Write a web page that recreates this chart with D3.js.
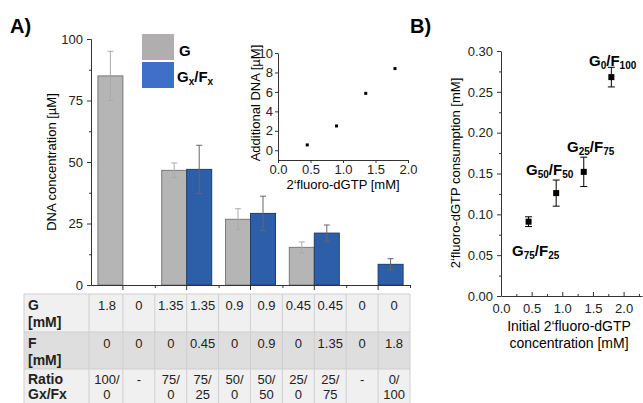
<!DOCTYPE html>
<html>
<head>
<meta charset="utf-8">
<script src="https://cdn.jsdelivr.net/npm/d3@7.9.0/dist/d3.min.js"></script>
<style>
  body { margin: 0; background: #fff; }
  svg { font-family: "Liberation Sans", Arial, sans-serif; display: block; }
</style>
</head>
<body>
<svg width="643" height="403"></svg>
<script>
// ---- panel A: bars ----
const barColumns = d3.range(10);
const barSeries = ["G", "GF", "G", "GF", "G", "GF", "G", "GF", "G", "GF"];
const barValues = [85, null, 46.6, 47.0, 26.7, 29.1, 15.3, 21.1, null, 8.4];
const barErrors = [10, null, 3.0, 9.8, 4.3, 7.0, 2.2, 3.3, null, 2.3];

// table under the bars
const rowHeads = [["G", "[mM]"], ["F", "[mM]"], ["Ratio", "Gx/Fx"]];
const gConc = ["1.8", "0", "1.35", "1.35", "0.9", "0.9", "0.45", "0.45", "0", "0"];
const fConc = ["0", "0", "0", "0.45", "0", "0.9", "0", "1.35", "0", "1.8"];
const ratioTop = ["100/", "-", "75/", "75/", "50/", "50/", "25/", "25/", "-", "0/"];
const ratioBottom = ["0", "", "0", "25", "0", "50", "0", "75", "", "100"];

// inset
const insetX = [0.45, 0.9, 1.35, 1.8];
const insetY = [0.55, 2.5, 5.85, 8.4];

// ---- panel B ----
const consX = [0.45, 0.9, 1.35, 1.8];
const consY = [0.091, 0.126, 0.152, 0.268];
const consErr = [0.006, 0.016, 0.018, 0.012];
const consLabels = [["75", "25"], ["50", "50"], ["25", "75"], ["0", "100"]];

const svg = d3.select("svg");
const axisColor = "#333";

// panel letters
svg.append("text").attr("x", 10).attr("y", 33).attr("font-size", 20)
  .attr("font-weight", "bold").text("A)");
svg.append("text").attr("x", 410).attr("y", 33).attr("font-size", 20)
  .attr("font-weight", "bold").text("B)");

// ===== bar chart =====
const x0 = d3.scaleBand().domain(d3.range(5)).range([91, 410]);
const x1 = d3.scaleBand().domain(["G", "GF"]).range([0, x0.bandwidth()])
  .paddingInner(0).paddingOuter(0.276);
const xCol = d3.scaleBand().domain(barColumns).range([91, 410]);
const y = d3.scaleLinear().domain([0, 100]).range([285, 39]);

const fills = { G: "#b5b5b5", GF: "#2d5fa8" };
const strokes = { G: "#7a7a7a", GF: "#1d3d73" };
const errColor = { G: "#aaa", GF: "#666" };

const bars = barColumns.filter(i => barValues[i] != null);
const gBars = svg.append("g");
gBars.selectAll("rect").data(bars).join("rect")
  .attr("x", i => x0(Math.floor(i / 2)) + x1(barSeries[i]))
  .attr("y", i => y(barValues[i]))
  .attr("width", x1.bandwidth())
  .attr("height", i => y(0) - y(barValues[i]))
  .attr("fill", i => fills[barSeries[i]])
  .attr("stroke", i => strokes[barSeries[i]])
  .attr("stroke-width", 1);

const gErr = svg.append("g");
bars.forEach(i => {
  const cx = x0(Math.floor(i / 2)) + x1(barSeries[i]) + x1.bandwidth() / 2;
  const c = errColor[barSeries[i]];
  const top = y(barValues[i] + barErrors[i]), bot = y(barValues[i] - barErrors[i]);
  gErr.append("line").attr("x1", cx).attr("x2", cx).attr("y1", top).attr("y2", bot)
    .attr("stroke", c);
  [top, bot].forEach(v => gErr.append("line").attr("x1", cx - 3).attr("x2", cx + 3)
    .attr("y1", v).attr("y2", v).attr("stroke", c));
});

// y axis
svg.append("g").attr("transform", "translate(91,0)")
  .call(d3.axisLeft(y).tickValues([0, 25, 50, 75, 100]).tickSize(4).tickPadding(4));
svg.append("g").attr("transform", "translate(91,0)")
  .call(d3.axisLeft(y).tickValues([12.5, 37.5, 62.5, 87.5]).tickSize(2).tickFormat(""))
  .select(".domain").remove();
// x axis
svg.append("g").attr("transform", "translate(0,285)")
  .call(d3.axisBottom(x0).tickSize(5).tickFormat("").tickSizeOuter(0));
svg.append("g").attr("transform", "translate(0,285)")
  .call(d3.axisBottom(d3.scaleLinear().domain([0, 5]).range([91, 410]))
    .tickValues([1, 2, 3, 4, 5]).tickSize(3).tickFormat(""))
  .select(".domain").remove();

svg.append("text").attr("transform", "translate(56,162) rotate(-90)")
  .attr("text-anchor", "middle").attr("font-size", 13).text("DNA concentration [µM]");

// legend
const legend = [["G", "#b0aeae", 34], ["GF", "#3f6fc6", 62]];
legend.forEach(([k, c, ty]) => {
  svg.append("rect").attr("x", 142).attr("y", ty).attr("width", 32).attr("height", 26)
    .attr("fill", c);
});
svg.append("text").attr("x", 179).attr("y", 56).attr("font-size", 15)
  .attr("font-weight", "bold").text("G");
const lg = svg.append("text").attr("x", 177).attr("y", 82).attr("font-size", 15)
  .attr("font-weight", "bold");
lg.append("tspan").text("G");
lg.append("tspan").attr("font-size", 10).attr("dy", 3).text("x");
lg.append("tspan").attr("dy", -3).text("/F");
lg.append("tspan").attr("font-size", 10).attr("dy", 3).text("x");

svg.selectAll(".domain, .tick line").attr("stroke", axisColor);
svg.selectAll(".tick text").attr("font-size", 13).attr("fill", "#222");

// ===== table =====
const rowTops = [294, 332, 369];
const rowH = [38, 37, 40];
const rowFill = ["#f0f0f0", "#dedede", "#f0f0f0"];
const lineOne = [16, 16, 15];
const lineTwo = [17, 17, 15];
const tbl = svg.append("g").attr("font-size", 13).attr("fill", "#222");
const rows = [[gConc, null], [fConc, null], [ratioTop, ratioBottom]];
rows.forEach((r, ri) => {
  tbl.append("rect").attr("x", 24).attr("y", rowTops[ri]).attr("width", 410 - 24)
    .attr("height", rowH[ri]).attr("fill", rowFill[ri]);
  const h = tbl.append("text").attr("x", 28).attr("y", rowTops[ri] + lineOne[ri])
    .attr("font-weight", "bold").attr("font-size", 14);
  h.append("tspan").text(rowHeads[ri][0]);
  h.append("tspan").attr("x", 28).attr("dy", lineTwo[ri]).text(rowHeads[ri][1]);
  barColumns.forEach(c => {
    const cx = xCol(c) + xCol.bandwidth() / 2;
    tbl.append("text").attr("x", cx).attr("y", rowTops[ri] + lineOne[ri])
      .attr("text-anchor", "middle").text(r[0][c]);
    if (r[1]) tbl.append("text").attr("x", cx).attr("y", rowTops[ri] + lineOne[ri] + lineTwo[ri])
      .attr("text-anchor", "middle").text(r[1][c]);
  });
});
// cell borders
const borderX = [24, 89].concat(barColumns.slice(1).map(c => xCol(c)), [410]);
borderX.forEach(bx => tbl.append("line").attr("x1", bx).attr("x2", bx)
  .attr("y1", 294).attr("y2", 403).attr("stroke", "#cfcfcf"));
[294, 332, 369].forEach(by => tbl.append("line").attr("x1", 24).attr("x2", 410)
  .attr("y1", by).attr("y2", by).attr("stroke", "#cfcfcf"));

// ===== inset =====
const ix = d3.scaleLinear().domain([0, 2]).range([278, 408]);
const iy = d3.scaleLinear().domain([-1, 10]).range([160, 53]);
const inset = svg.append("g");
inset.append("g").attr("transform", "translate(0,160)")
  .call(d3.axisBottom(ix).tickValues([0, 0.5, 1, 1.5, 2]).tickFormat(d3.format(".1f"))
    .tickSize(3).tickSizeOuter(0).tickPadding(2));
inset.append("g").attr("transform", "translate(278,0)")
  .call(d3.axisLeft(iy).tickValues([0, 2, 4, 6, 8, 10]).tickSize(3).tickSizeOuter(0)
    .tickPadding(2));
inset.selectAll(".domain, .tick line").attr("stroke", axisColor);
inset.selectAll(".tick text").attr("font-size", 13).attr("fill", "#222");
inset.selectAll("rect.pt").data(insetX).join("rect").attr("class", "pt")
  .attr("x", d => ix(d) - 1.5).attr("y", (d, i) => iy(insetY[i]) - 1.5)
  .attr("width", 3).attr("height", 3).attr("fill", "#000");
inset.append("text").attr("x", 343).attr("y", 189).attr("text-anchor", "middle")
  .attr("font-size", 13).text("2‘fluoro-dGTP [mM]");
inset.append("text").attr("transform", "translate(260,103) rotate(-90)")
  .attr("text-anchor", "middle").attr("font-size", 13).text("Additional DNA [µM]");

// ===== panel B =====
const bx = d3.scaleLinear().domain([0, 2.3]).range([501, 642]);
const by = d3.scaleLinear().domain([0, 0.3]).range([296, 51]);
const pb = svg.append("g");
pb.append("g").attr("transform", "translate(0,296)")
  .call(d3.axisBottom(bx).tickValues([0, 0.5, 1, 1.5, 2]).tickFormat(d3.format(".1f"))
    .tickSize(-4).tickSizeOuter(0).tickPadding(8));
pb.append("g").attr("transform", "translate(0,296)")
  .call(d3.axisBottom(bx).tickValues([0.25, 0.75, 1.25, 1.75, 2.25]).tickSize(-2)
    .tickFormat("")).select(".domain").remove();
pb.append("g").attr("transform", "translate(501,0)")
  .call(d3.axisLeft(by).tickValues(d3.range(0, 0.31, 0.05)).tickFormat(d3.format(".2f"))
    .tickSize(4).tickSizeOuter(0).tickPadding(4));
pb.append("g").attr("transform", "translate(501,0)")
  .call(d3.axisLeft(by).tickValues([0.025, 0.075, 0.125, 0.175, 0.225, 0.275]).tickSize(2)
    .tickFormat("")).select(".domain").remove();
pb.selectAll(".domain, .tick line").attr("stroke", axisColor);
pb.selectAll(".tick text").attr("font-size", 13).attr("fill", "#222");

consX.forEach((d, i) => {
  const cx = bx(d), t = by(consY[i] + consErr[i]), b = by(consY[i] - consErr[i]);
  pb.append("line").attr("x1", cx).attr("x2", cx).attr("y1", t).attr("y2", b).attr("stroke", "#000");
  [t, b].forEach(v => pb.append("line").attr("x1", cx - 3.5).attr("x2", cx + 3.5)
    .attr("y1", v).attr("y2", v).attr("stroke", "#000"));
});
pb.selectAll("rect.pt").data(consX).join("rect").attr("class", "pt")
  .attr("x", d => bx(d) - 3).attr("y", (d, i) => by(consY[i]) - 3)
  .attr("width", 6).attr("height", 6).attr("fill", "#000");

const labelPos = [[512, 256], [526, 175], [567, 152], [589, 66]];
consLabels.forEach((l, i) => {
  const t = pb.append("text").attr("x", labelPos[i][0]).attr("y", labelPos[i][1])
    .attr("font-size", 15).attr("font-weight", "bold");
  t.append("tspan").text("G");
  t.append("tspan").attr("font-size", 10).attr("dy", 3).text(l[0]);
  t.append("tspan").attr("dy", -3).text("/F");
  t.append("tspan").attr("font-size", 10).attr("dy", 3).text(l[1]);
});

pb.append("text").attr("transform", "translate(460,173) rotate(-90)")
  .attr("text-anchor", "middle").attr("font-size", 13).text("2‘fluoro-dGTP consumption [mM]");
pb.append("text").attr("x", 569).attr("y", 331).attr("text-anchor", "middle")
  .attr("font-size", 14).text("Initial 2‘fluoro-dGTP");
pb.append("text").attr("x", 569).attr("y", 348).attr("text-anchor", "middle")
  .attr("font-size", 14).text("concentration [mM]");
</script>
</body>
</html>
